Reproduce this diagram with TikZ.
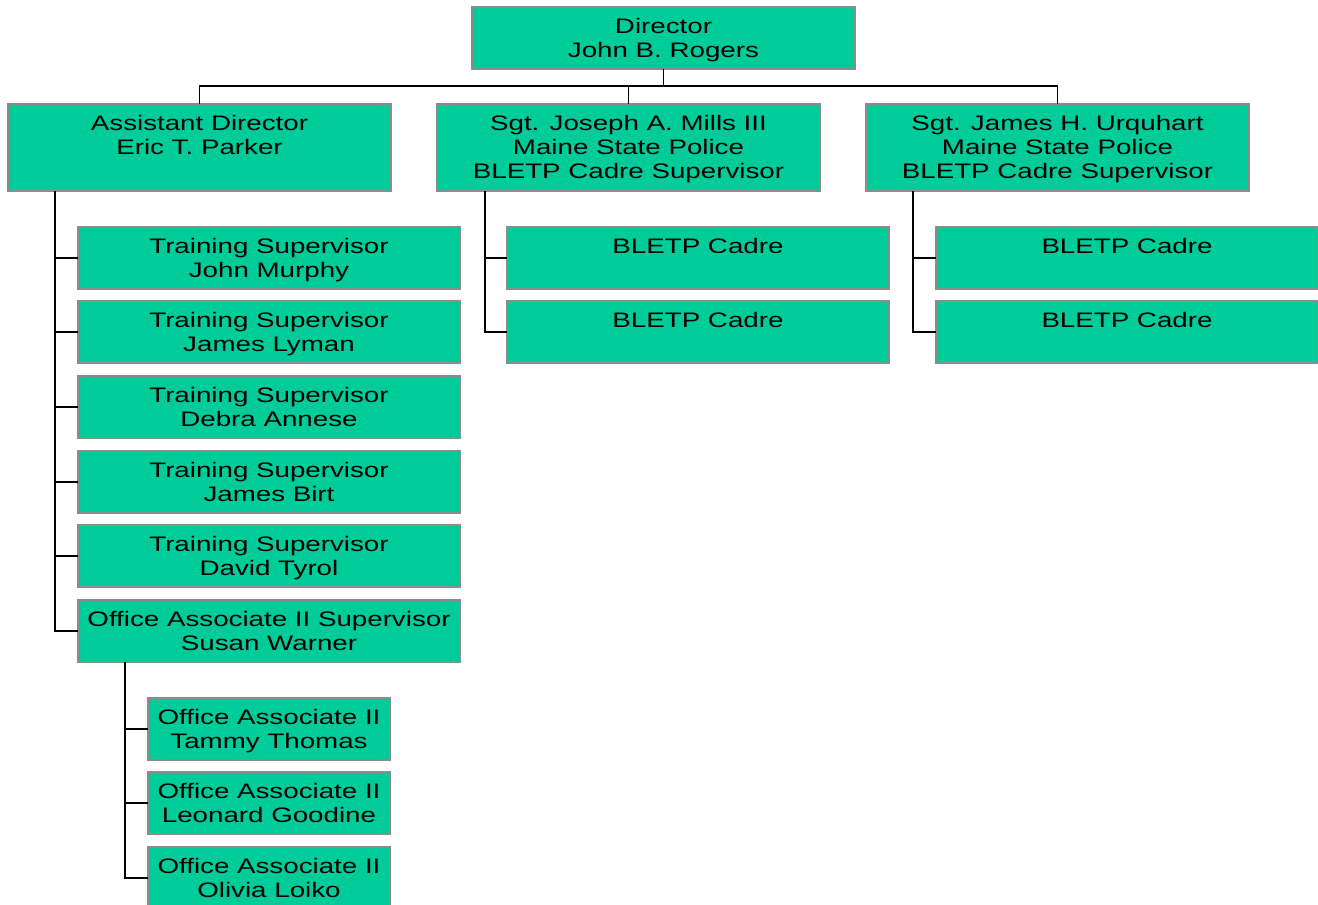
\documentclass[tikz,border=0pt]{standalone}
\usepackage{fontspec}
\newfontfamily\boxfont[FakeStretch=1.32]{Liberation Sans}
\definecolor{boxfill}{HTML}{00CC99}
\definecolor{boxborder}{HTML}{8C8C8C}
\tikzset{
  orgbox/.style={draw=boxborder, line width=1.6pt, fill=boxfill, anchor=north west, inner sep=0pt, outer sep=0pt},
  orgtxt/.style={font={\boxfont\fontsize{21}{24}\selectfont}, align=center, anchor=north, inner sep=0pt, text=black},
  link/.style={draw=black, line width=1.4pt}
}
\newcommand\obox[6]{%
  \node[orgbox, minimum width=#4pt, minimum height=#5pt] (#1) at (#2,#3) {};
  \node[orgtxt] (#1-t) at ([yshift=-10pt]#1.north) {\rule{0pt}{16pt}#6};
}
\begin{document}
\begin{tikzpicture}[x=1pt,y=-1pt]
\useasboundingbox (0,0) rectangle (1318,905);
\clip (0,0) rectangle (1318,905);
% top
\obox{dir}{472}{7}{383}{62}{Director\\John B. Rogers}
\obox{asst}{8}{104}{383}{87}{Assistant Director\\Eric T. Parker}
\obox{mills}{437}{104}{383}{87}{Sgt. Joseph A. Mills III\\Maine State Police\\BLETP Cadre Supervisor}
\obox{urq}{866}{104}{383}{87}{Sgt. James H. Urquhart\\Maine State Police\\BLETP Cadre Supervisor}
% assistant director's staff
\obox{ts1}{78}{227}{382}{62}{Training Supervisor\\John Murphy}
\obox{ts2}{78}{301}{382}{62}{Training Supervisor\\James Lyman}
\obox{ts3}{78}{376}{382}{62}{Training Supervisor\\Debra Annese}
\obox{ts4}{78}{451}{382}{62}{Training Supervisor\\James Birt}
\obox{ts5}{78}{525}{382}{62}{Training Supervisor\\David Tyrol}
\obox{oas}{78}{600}{382}{62}{Office Associate II Supervisor\\Susan Warner}
% office associates
\obox{oa1}{148}{698}{242}{62}{Office Associate II\\Tammy Thomas}
\obox{oa2}{148}{772}{242}{62}{Office Associate II\\Leonard Goodine}
\obox{oa3}{148}{847}{242}{62}{Office Associate II\\Olivia Loiko}
% cadres
\obox{c1}{507}{227}{382}{62}{BLETP Cadre}
\obox{c2}{507}{301}{382}{62}{BLETP Cadre}
\obox{c3}{936}{227}{382}{62}{BLETP Cadre}
\obox{c4}{936}{301}{382}{62}{BLETP Cadre}
% connectors
\coordinate (bus) at ([yshift=-17pt]dir.south);
\draw[link] (dir.south) -- (bus);
\draw[link] (asst.north) |- (bus) -| (urq.north);
\draw[link] (mills.north) -- (mills.north |- bus);
\coordinate (av) at ([xshift=47pt]asst.south west);
\foreach \c in {ts1,ts2,ts3,ts4,ts5,oas} \draw[link] (av) |- (\c.west);
\coordinate (mv) at ([xshift=48pt]mills.south west);
\foreach \c in {c1,c2} \draw[link] (mv) |- (\c.west);
\coordinate (uv) at ([xshift=47pt]urq.south west);
\foreach \c in {c3,c4} \draw[link] (uv) |- (\c.west);
\coordinate (sv) at ([xshift=47pt]oas.south west);
\foreach \c in {oa1,oa2,oa3} \draw[link] (sv) |- (\c.west);
\end{tikzpicture}
\end{document}
